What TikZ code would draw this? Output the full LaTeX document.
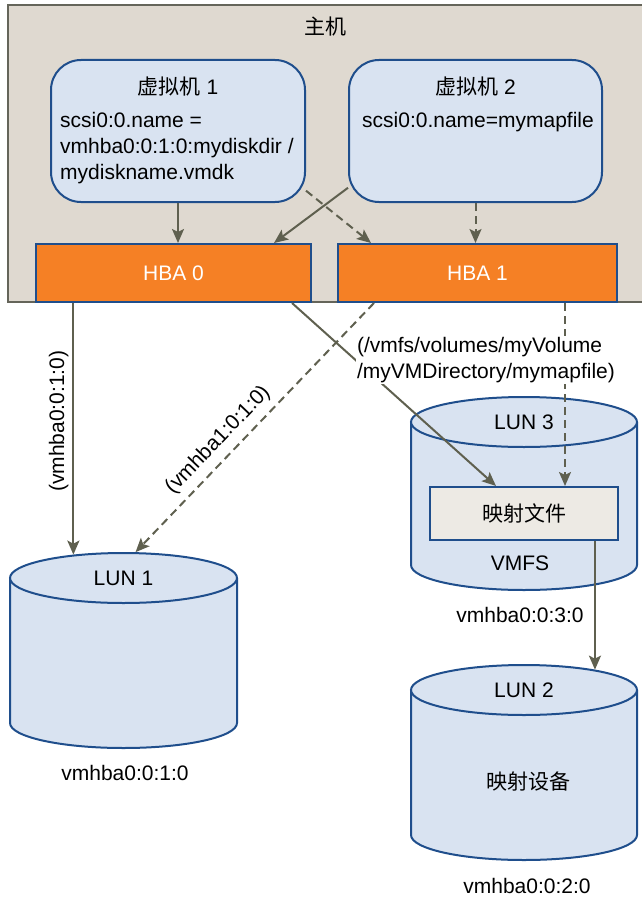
\documentclass[tikz,border=0pt]{standalone}
\usepackage{fontspec}
\setmainfont{Liberation Sans}
\newfontfamily\cjk{Noto Sans CJK SC}
\usepackage{tikz}
\usetikzlibrary{arrows.meta,shapes.geometric}

\definecolor{hostfill}{HTML}{DFD9D0}
\definecolor{hostline}{HTML}{65655A}
\definecolor{boxblue}{HTML}{1F4E8C}
\definecolor{lightblue}{HTML}{D9E3F1}
\definecolor{hbaorange}{HTML}{F58025}
\definecolor{mapfill}{HTML}{EDEAE4}
\definecolor{arrowgray}{HTML}{5F604F}

\begin{document}
\begin{tikzpicture}[x=1pt,y=-1pt,
		font=\fontsize{21}{26}\selectfont,
		vmbox/.style={draw=boxblue, line width=2pt, fill=lightblue, rounded corners=30pt},
		hbabox/.style={draw=boxblue, line width=2pt, fill=hbaorange, text=white},
		lunbody/.style={draw=boxblue, line width=2pt, fill=lightblue},
		luntop/.style={ellipse, draw=boxblue, line width=2pt, fill=lightblue, minimum width=227pt, minimum height=50pt, inner sep=0pt},
		link/.style={draw=arrowgray, line width=2pt, -{Stealth[length=14pt,width=12pt,inset=3pt]}},
		dashlink/.style={link, dash pattern=on 8pt off 5pt}]
	\useasboundingbox (0,0) rectangle (642,899);

	% host
	\draw[fill=hostfill, draw=hostline, line width=2pt] (8,5) rectangle (650,302);
	\node (host) at (325,27) {\cjk 主机};

	% virtual machines
	\node[vmbox, minimum width=254pt, minimum height=142pt] (vm1) at (178,131) {};
	\node (vm1title) at (178,87) {{\cjk 虚拟机} 1};
	\node[anchor=north west, align=left, inner sep=0pt] (vm1text) at (60,112) {scsi0:0.name =\\vmhba0:0:1:0:mydiskdir /\\mydiskname.vmdk};
	\node[vmbox, minimum width=253pt, minimum height=142pt] (vm2) at (475.5,131) {};
	\node (vm2title) at (475.5,87) {{\cjk 虚拟机} 2};
	\node (vm2text) at (478,122) {scsi0:0.name=mymapfile};

	% adapters
	\node[hbabox, minimum width=275pt, minimum height=58pt] (hba0) at (173.5,273) {HBA 0};
	\node[hbabox, minimum width=279pt, minimum height=58pt] (hba1) at (477.5,273) {HBA 1};

	% LUN 1
	\draw[lunbody] (10,578) -- (10,723) arc (180:360:113.5pt and 25pt) -- (237,578);
	\node[luntop] (lun1) at (123.5,578) {LUN 1};
	\node (lun1id) at (125,773) {vmhba0:0:1:0};

	% LUN 3
	\draw[lunbody] (411,422) -- (411,565) arc (180:360:113pt and 25pt) -- (637,422);
	\node[luntop, minimum width=226pt] (lun3) at (524,422) {LUN 3};
	\node[draw=boxblue, line width=2pt, fill=mapfill, minimum width=188pt, minimum height=53pt] (map) at (524,513.5) {\cjk 映射文件};
	\node (vmfs) at (520,563) {VMFS};
	\node (lun3id) at (520,615) {vmhba0:0:3:0};

	% LUN 2
	\draw[lunbody] (411,690) -- (411,835) arc (180:360:113pt and 25pt) -- (637,690);
	\node[luntop, minimum width=226pt] (lun2) at (524,690) {LUN 2};
	\node (lun2dev) at (528,782) {\cjk 映射设备};
	\node (lun2id) at (527,886) {vmhba0:0:2:0};

	% connections
	\draw[link] (vm1.south) -- (vm1.south |- hba0.north);
	\draw[link] (vm2.-156) -- ([xshift=-38pt]hba0.north east);
	\draw[dashlink] (vm1.-25) -- ([xshift=34pt]hba1.north west);
	\draw[dashlink] (vm2.south) -- (vm2.south |- hba1.north);
	\draw[link] (lun1.155 |- hba0.south) -- (lun1.155)
		node[pos=0.47, rotate=90, anchor=south, inner sep=4pt] {(vmhba0:0:1:0)};
	\draw[dashlink] ([xshift=37pt]hba1.south west) -- (lun1.65)
		node[pos=0.6, sloped, above, inner sep=7pt] {(vmhba1:0:1:0)};
	\draw[link] ([xshift=-20pt]hba0.south east) -- ([xshift=-28pt]map.north);
	\draw[dashlink] ([xshift=-53pt]hba1.south east) -- ([xshift=-53pt]hba1.south east |- map.north);
	\node[fill=white, align=left, inner sep=1pt] (mappath) at (486,360) {(/vmfs/volumes/myVolume\\/myVMDirectory/mymapfile)};
	\draw[link] (lun2.16 |- map.south) -- (lun2.16);
\end{tikzpicture}
\end{document}
